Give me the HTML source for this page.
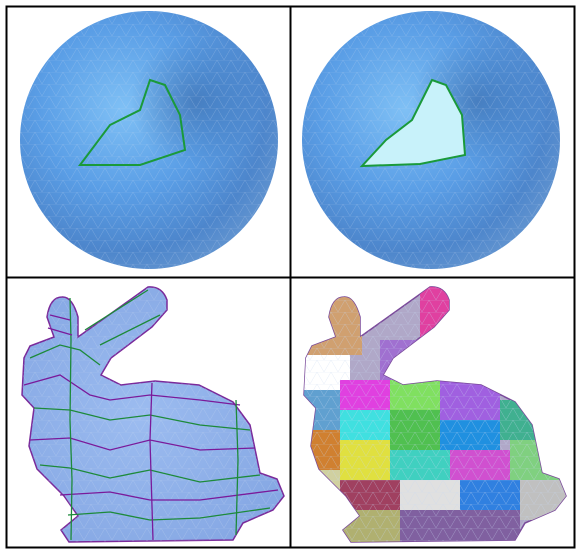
<!DOCTYPE html>
<html><head><meta charset="utf-8"><style>
body{margin:0;background:#fff;}
svg{display:block;font-family:"Liberation Sans",sans-serif;}
</style></head><body>
<svg width="579" height="552" viewBox="0 0 579 552">
<defs>
<radialGradient id="sg" cx="0.4" cy="0.38" r="0.65">
<stop offset="0" stop-color="#7fc0f5"/><stop offset="0.5" stop-color="#5a9ee6"/><stop offset="0.85" stop-color="#4d86cc"/><stop offset="1" stop-color="#5f92cf"/>
</radialGradient>
<radialGradient id="shade" cx="0.68" cy="0.35" r="0.25">
<stop offset="0" stop-color="#2f5a98" stop-opacity="0.5"/><stop offset="1" stop-color="#2f5a98" stop-opacity="0"/>
</radialGradient>
<radialGradient id="bg" cx="0.45" cy="0.5" r="0.6">
<stop offset="0" stop-color="#9cbcf0"/><stop offset="1" stop-color="#86a8e4"/>
</radialGradient>
<path id="bunny" d="M62,297 Q72,296 78,317 L78,337 L148,287 Q162,286 167,300 L167,310 L152,327 L111,358 L101,375 L121,385 L155,381 L199,385 L233,402 L250,425 L260,473 L277,479 L284,496 L273,510 L243,523 L233,540 L69,542 L61,530 L78,516 L64,496 L37,469 L29,446 L34,408 L22,395 L24,358 L30,346 L54,337 L47,317 Q50,297 62,297 Z"/>
<clipPath id="bclipR"><use href="#bunny" transform="translate(282,0)"/></clipPath>
<pattern id="mesh" width="14" height="12" patternUnits="userSpaceOnUse"><path d="M0,12 L7,0 L14,12 M0,0 L14,0" stroke="#c8d8f0" stroke-width="0.5" fill="none"/></pattern>
</defs>
<rect x="6.5" y="6.5" width="568" height="541" fill="none" stroke="#000" stroke-width="2"/>
<line x1="290.5" y1="6" x2="290.5" y2="548" stroke="#000" stroke-width="2"/>
<line x1="6" y1="277.5" x2="575" y2="277.5" stroke="#000" stroke-width="2"/>

<g>
<circle cx="149" cy="140" r="129" fill="url(#sg)"/>
<circle cx="149" cy="140" r="129" fill="url(#shade)"/>
<circle cx="149" cy="140" r="129" fill="url(#mesh)" opacity="0.35"/>
<polygon points="150,80 165,85 180,115 185,150 140,165 80,165 110,125 140,110" fill="none" stroke="#1a9a3a" stroke-width="2"/>
</g>
<g>
<circle cx="431" cy="140" r="129" fill="url(#sg)"/>
<circle cx="431" cy="140" r="129" fill="url(#shade)"/>
<circle cx="431" cy="140" r="129" fill="url(#mesh)" opacity="0.35"/>
<polygon points="432,80 446,85 462,115 465,155 420,164 362,166 386,140 412,120" fill="#c8f2fa" stroke="#1a9a3a" stroke-width="2"/>
</g>

<g>
<use href="#bunny" fill="url(#bg)" stroke="#7a2a9a" stroke-width="1.5"/>
<use href="#bunny" fill="url(#mesh)" opacity="0.4"/>
<g fill="none" stroke-width="1.3">
<path d="M30,358 L60,345 L80,350 L100,365" stroke="#1d8a3a"/>
<path d="M24,385 L60,375 L90,395 L110,400 L150,395 L200,400 L240,405" stroke="#7a1a9a"/>
<path d="M34,408 L70,410 L110,420 L150,415 L200,425 L250,430" stroke="#1d8a3a"/>
<path d="M30,440 L70,438 L110,450 L150,440 L200,450 L255,448" stroke="#7a1a9a"/>
<path d="M40,465 L70,468 L110,478 L150,470 L200,482 L260,475" stroke="#1d8a3a"/>
<path d="M60,495 L110,492 L150,500 L200,500 L278,490" stroke="#7a1a9a"/>
<path d="M68,515 L110,512 L150,520 L200,518 L270,508" stroke="#1d8a3a"/>
<path d="M70,298 L71,340 L70,420 L72,480 L71,540" stroke="#1d8a3a"/>
<path d="M152,383 L150,440 L153,540" stroke="#7a1a9a"/>
<path d="M236,400 L238,460 L236,535" stroke="#1d8a3a"/>
<path d="M85,330 L148,290 M100,345 L160,315" stroke="#1d8a3a"/>
<path d="M50,315 L70,320 M48,328 L72,335" stroke="#7a1a9a"/>
</g>
</g>

<g>
<use href="#bunny" transform="translate(282,0)" fill="#b0a8c8" stroke="#7a4a9a" stroke-width="1.5"/>
<g clip-path="url(#bclipR)">
<rect x="282" y="285" width="80" height="70" fill="#d0a070"/>
<rect x="420" y="285" width="50" height="80" fill="#e040a0"/>
<rect x="380" y="340" width="50" height="40" fill="#a070d0"/>
<rect x="300" y="355" width="50" height="35" fill="#ffffff"/>
<rect x="300" y="390" width="40" height="40" fill="#60a0d0"/>
<rect x="340" y="380" width="50" height="30" fill="#e040e0"/>
<rect x="390" y="380" width="50" height="30" fill="#80e060"/>
<rect x="440" y="380" width="60" height="40" fill="#a060e0"/>
<rect x="500" y="400" width="60" height="40" fill="#40b090"/>
<rect x="300" y="430" width="40" height="40" fill="#d08030"/>
<rect x="340" y="410" width="50" height="30" fill="#40e0e0"/>
<rect x="390" y="410" width="50" height="40" fill="#50c050"/>
<rect x="440" y="420" width="60" height="30" fill="#2090e0"/>
<rect x="340" y="440" width="50" height="40" fill="#e0e040"/>
<rect x="390" y="450" width="60" height="30" fill="#40d0c0"/>
<rect x="450" y="450" width="60" height="30" fill="#d050d0"/>
<rect x="510" y="440" width="60" height="40" fill="#80d080"/>
<rect x="300" y="470" width="40" height="40" fill="#d0d0a0"/>
<rect x="340" y="480" width="60" height="30" fill="#a04060"/>
<rect x="400" y="480" width="60" height="30" fill="#e0e0e0"/>
<rect x="460" y="480" width="60" height="30" fill="#3080e0"/>
<rect x="520" y="480" width="50" height="40" fill="#c0c0c0"/>
<rect x="300" y="510" width="100" height="40" fill="#b0b070"/>
<rect x="400" y="510" width="120" height="40" fill="#8060a0"/>
</g>
<use href="#bunny" transform="translate(282,0)" fill="url(#mesh)" opacity="0.5"/>
</g>
</svg>
</body></html>
